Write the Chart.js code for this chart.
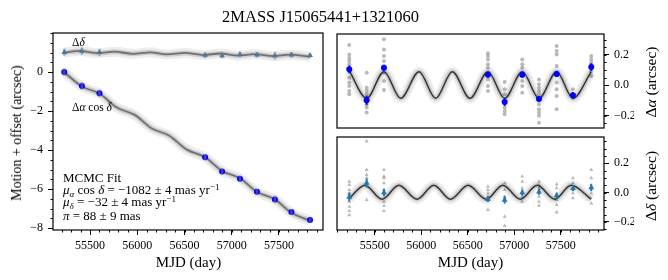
<!DOCTYPE html>
<html>
<head>
<meta charset="utf-8">
<script src="https://cdn.jsdelivr.net/npm/chart.js@4.4.1/dist/chart.umd.min.js"></script>
<style>
body { margin: 0; background: #fff; width: 668px; height: 280px; overflow: hidden; position: relative; font-family: "Liberation Serif", serif; color: #000; }
canvas { position: absolute; left: 0; top: 0; }
.t { position: absolute; white-space: nowrap; line-height: 1; }
.rot { transform: translate(-50%, -50%) rotate(-90deg); }
.sb { font-size: 70%; position: relative; top: 0.3em; }
.sp { font-size: 70%; position: relative; top: -0.45em; }
</style>
</head>
<body>
<canvas id="motion" width="668" height="280"></canvas>
<canvas id="raRes" width="668" height="280"></canvas>
<canvas id="decRes" width="668" height="280"></canvas>

<div class="t" style="left:0;width:641px;text-align:center;top:9px;font-size:16.5px">2MASS J15065441+1321060</div>
<div class="t rot" style="left:17px;top:133px;font-size:14px">Motion + offset (arcsec)</div>
<div class="t" style="left:150px;width:77px;text-align:center;top:255px;font-size:15px">MJD (day)</div>
<div class="t" style="left:432px;width:77px;text-align:center;top:255px;font-size:15px">MJD (day)</div>
<div class="t rot" style="left:651px;top:82px;font-size:15.5px">&Delta;<i>&alpha;</i> (arcsec)</div>
<div class="t rot" style="left:651px;top:186px;font-size:15.5px">&Delta;<i>&delta;</i> (arcsec)</div>

<div class="t" style="left:72px;top:37px;font-size:11.5px">&Delta;<i>&delta;</i></div>
<div class="t" style="left:72px;top:102px;font-size:11.5px">&Delta;<i>&alpha;</i> cos <i>&delta;</i></div>
<div class="t" style="left:63px;top:171px;font-size:13px">MCMC Fit</div>
<div class="t" style="left:63px;top:183px;font-size:13px"><i>&mu;</i><span class="sb"><i>&alpha;</i></span> cos <i>&delta;</i> = &minus;1082 &plusmn; 4 mas yr<span class="sp">&minus;1</span></div>
<div class="t" style="left:63px;top:195px;font-size:13px"><i>&mu;</i><span class="sb"><i>&delta;</i></span> = &minus;32 &plusmn; 4 mas yr<span class="sp">&minus;1</span></div>
<div class="t" style="left:63px;top:209px;font-size:13px"><i>&pi;</i> = 88 &plusmn; 9 mas</div>

<script>
// epochs (MJD) of the ten observing runs
const mjd = [55227, 55414, 55600, 56718, 56898, 57087, 57267, 57457, 57632, 57829];

// left panel: motion + offset
const raOff  = [0.0, -0.72, -1.09, -4.37, -5.10, -5.47, -6.14, -6.53, -7.18, -7.59];
const decOff = [1.01, 1.07, 1.0, 0.86, 0.84, 0.9, 0.88, 0.84, 0.88, 0.85];
const offErr = [0.2, 0.2, 0.2, 0.15, 0.15, 0.15, 0.15, 0.2, 0.15, 0.12];

// right panels: parallax residuals (epoch means)
const raRes  = [0.105, -0.098, 0.115, 0.07, -0.11, 0.07, -0.09, 0.075, -0.065, 0.12];
const raErr  = [0.025, 0.03, 0.02, 0.02, 0.025, 0.02, 0.02, 0.02, 0.02, 0.025];
const decRes = [-0.03, 0.065, 0.0, -0.045, -0.05, 0.0, 0.005, -0.02, 0.03, 0.035];
const decErr = [0.03, 0.03, 0.025, 0.02, 0.025, 0.02, 0.02, 0.02, 0.02, 0.025];

// single frames per epoch
const raSingles = [
  [0.265, 0.203, 0.18, 0.16, 0.138, 0.05, 0.018, -0.004, -0.037, -0.059],
  [0.083, -0.015, -0.037, -0.059, -0.125, -0.146, -0.179],
  [0.302, 0.236, 0.193, 0.16, 0.083, 0.029, -0.03],
  [0.21, 0.193, 0.17, 0.138, 0.116, 0.039, -0.004, -0.037],
  [0.022, -0.026, -0.059, -0.146, -0.168, -0.19],
  [0.17, 0.138, 0.116, 0.029, -0.004, -0.048],
  [0.039, 0.007, -0.015, -0.037, -0.059, -0.125, -0.157, -0.179, -0.2, -0.245],
  [0.258, 0.226, 0.203, 0.127, 0.018, -0.026, -0.07, -0.157],
  [-0.026, -0.08],
  [0.193, 0.17, 0.149, 0.094, 0.062]
];
const decSingles = [
  [0.075, 0.053, 0.018, -0.005, -0.062, -0.096, -0.125, -0.153],
  [0.35, 0.155, 0.121, 0.1, -0.05],
  [0.155, 0.11, 0.099, 0.064, 0.018, -0.062, -0.091, -0.125],
  [0.041, 0.018, -0.004, -0.027, -0.118],
  [0.064, 0.018, -0.027, -0.164, -0.226],
  [0.11, 0.075, 0.03, -0.027, -0.062],
  [0.075, 0.053, 0.03, -0.027, -0.062, -0.089],
  [0.057, 0.03, -0.05, -0.084, -0.134],
  [0.099, 0.064, -0.004, -0.038],
  [0.155, 0.099, -0.004, -0.073]
];

// best fit model, read at its turning points
const modelRaMjd = [55227, 55414, 55600, 55780, 55977, 56156, 56335, 56525, 56718, 56898, 57087, 57267, 57457, 57632, 57829];
const modelRaMotion = [-0.01, -0.74, -1.105, -1.81, -2.21, -2.90, -3.25, -3.98, -4.37, -5.07, -5.45, -6.15, -6.53, -7.22, -7.62];
const modelRa = [0.095, -0.085, 0.09, -0.085, 0.09, -0.085, 0.09, -0.085, 0.09, -0.085, 0.09, -0.085, 0.09, -0.085, 0.09];
const modelDecMjd = [55227, 55394, 55580, 55760, 55955, 56136, 56315, 56505, 56700, 56878, 57067, 57247, 57437, 57612, 57829];
const modelDecMotion = [1.00, 1.08, 0.965, 1.045, 0.93, 1.01, 0.90, 0.98, 0.87, 0.95, 0.84, 0.92, 0.81, 0.89, 0.78];
const modelDec = [-0.04, 0.05, -0.045, 0.05, -0.045, 0.05, -0.045, 0.05, -0.045, 0.05, -0.045, 0.05, -0.045, 0.05, -0.045];

const xTicks = [55500, 56000, 56500, 57000, 57500];
const yTicksLeft = [-8, -6, -4, -2, 0];
const yTicksRight = [-0.2, 0, 0.2];

const RA_COL = '#0000ff';
const DEC_COL = '#1f77b4';
const tickFont = { family: 'Liberation Serif', size: 12 };

function pts(xs, ys) { return xs.map((x, i) => ({ x: x, y: ys[i] })); }
function singles(list) {
  const out = [];
  list.forEach((vals, i) => vals.forEach(v => out.push({ x: mjd[i], y: v })));
  return out;
}
function minus(s) { return s.replace('-', '\u2212'); }

// model line with its blurred sample band
function modelSets(xs, ys, lineCol, lineW) {
  return [
    { data: pts(xs, ys), showLine: true, pointRadius: 0, borderColor: lineCol, borderWidth: lineW, cubicInterpolationMode: 'monotone' },
    { data: pts(xs, ys), showLine: true, pointRadius: 0, borderColor: 'rgba(0,0,0,0.14)', borderWidth: 5, cubicInterpolationMode: 'monotone' },
    { data: pts(xs, ys), showLine: true, pointRadius: 0, borderColor: 'rgba(0,0,0,0.07)', borderWidth: 10, cubicInterpolationMode: 'monotone' }
  ];
}

const frame = {
  id: 'frame',
  afterDraw(c) {
    const a = c.chartArea, g = c.ctx;
    g.save();
    g.strokeStyle = '#000';
    g.lineWidth = 1.2;
    g.strokeRect(a.left, a.top, a.right - a.left, a.bottom - a.top);
    g.restore();
  }
};

const errorBars = {
  id: 'errorBars',
  afterDatasetsDraw(c) {
    const g = c.ctx;
    c.data.datasets.forEach(ds => {
      if (!ds.err) return;
      g.save();
      g.strokeStyle = ds.errColor || ds.borderColor;
      g.lineWidth = ds.errWidth || 1.5;
      ds.data.forEach((p, j) => {
        const x = c.scales.x.getPixelForValue(p.x);
        g.beginPath();
        g.moveTo(x, c.scales.y.getPixelForValue(p.y - ds.err[j]));
        g.lineTo(x, c.scales.y.getPixelForValue(p.y + ds.err[j]));
        g.stroke();
      });
      g.restore();
    });
  }
};

function minorTicks(specs) {
  return {
    id: 'minorTicks',
    afterDraw(c) {
      const g = c.ctx, a = c.chartArea;
      g.save();
      g.strokeStyle = '#000';
      g.lineWidth = 1;
      specs.forEach(s => {
        const sc = c.scales[s.id];
        const k0 = Math.ceil(sc.min / s.step - 1e-9), k1 = Math.floor(sc.max / s.step + 1e-9);
        for (let k = k0; k <= k1; k++) {
          const p = Math.round(sc.getPixelForValue(k * s.step)) + 0.5;
          g.beginPath();
          if (s.side === 'bottom') { g.moveTo(p, a.bottom); g.lineTo(p, a.bottom + 2.5); }
          else if (s.side === 'left') { g.moveTo(a.left, p); g.lineTo(a.left - 2.5, p); }
          else { g.moveTo(a.right, p); g.lineTo(a.right + 2.5, p); }
          g.stroke();
        }
      });
      g.restore();
    }
  };
}

function xScale(min, max, show) {
  const s = {
    type: 'linear', min: min, max: max, display: show,
    afterBuildTicks: s => { s.ticks = xTicks.map(v => ({ value: v })); },
    ticks: { font: tickFont, color: '#000', padding: 4, maxRotation: 0, autoSkip: false, callback: v => String(v) },
    grid: { drawOnChartArea: false, drawTicks: true, tickLength: 5, color: '#000' },
    border: { display: false }
  };
  if (show) s.afterFit = sc => { sc.height = 20; };
  return s;
}
function yScale(min, max, ticks, pos, fmt) {
  return {
    type: 'linear', min: min, max: max, position: pos,
    afterBuildTicks: s => { s.ticks = ticks.map(v => ({ value: v })); },
    afterFit: s => { s.width = 30; },
    ticks: { font: tickFont, color: '#000', padding: 5, autoSkip: false, callback: fmt },
    grid: { drawOnChartArea: false, drawTicks: true, tickLength: 5, color: '#000' },
    border: { display: false }
  };
}
function baseOptions(pad, scales) {
  return {
    responsive: false, animation: false, events: [],
    layout: { padding: pad },
    plugins: { legend: { display: false }, tooltip: { enabled: false } },
    scales: scales
  };
}

// left: motion + offset
new Chart(document.getElementById('motion'), {
  type: 'scatter',
  data: {
    datasets: [
      { data: pts(mjd, raOff), pointStyle: 'circle', pointRadius: 3, backgroundColor: RA_COL, borderColor: RA_COL, borderWidth: 0,
        err: offErr, errColor: 'rgba(128,128,128,0.5)', errWidth: 2.5 },
      { data: pts(mjd, decOff), pointStyle: 'triangle', pointRadius: 3.2, backgroundColor: DEC_COL, borderColor: DEC_COL, borderWidth: 0,
        err: offErr, errColor: 'rgba(128,128,128,0.5)', errWidth: 2.5 },
      ...modelSets(modelRaMjd, modelRaMotion, '#707070', 1.8),
      ...modelSets(modelDecMjd, modelDecMotion, '#707070', 1.8)
    ]
  },
  options: baseOptions({ left: 23, top: 33, right: 345, bottom: 30 }, {
    x: xScale(55108, 57966, true),
    y: yScale(-8.1, 2.0, yTicksLeft, 'left', v => minus(String(v)))
  }),
  plugins: [frame, errorBars, minorTicks([{ id: 'x', step: 100, side: 'bottom' }, { id: 'y', step: 0.5, side: 'left' }])]
});

// top right: RA parallax
new Chart(document.getElementById('raRes'), {
  type: 'scatter',
  data: {
    datasets: [
      { data: pts(mjd, raRes), pointStyle: 'circle', pointRadius: 3, backgroundColor: RA_COL, borderColor: RA_COL, borderWidth: 0, err: raErr, errWidth: 2 },
      ...modelSets(modelRaMjd, modelRa, '#333', 1.5),
      { data: singles(raSingles), pointStyle: 'circle', pointRadius: 2, backgroundColor: 'rgba(128,128,128,0.55)', borderWidth: 0 }
    ]
  },
  options: baseOptions({ left: 337, top: 34, right: 34, bottom: 152 }, {
    x: xScale(55095, 57966, false),
    y: yScale(-0.28, 0.337, yTicksRight, 'right', v => minus(v.toFixed(1)))
  }),
  plugins: [frame, errorBars, minorTicks([{ id: 'y', step: 0.05, side: 'right' }])]
});

// bottom right: Dec parallax
new Chart(document.getElementById('decRes'), {
  type: 'scatter',
  data: {
    datasets: [
      { data: pts(mjd, decRes), pointStyle: 'triangle', pointRadius: 3.4, backgroundColor: DEC_COL, borderColor: DEC_COL, borderWidth: 0, err: decErr, errWidth: 2 },
      ...modelSets(modelDecMjd, modelDec, '#333', 1.5),
      { data: singles(decSingles), pointStyle: 'triangle', pointRadius: 2.3, backgroundColor: 'rgba(128,128,128,0.55)', borderWidth: 0 }
    ]
  },
  options: baseOptions({ left: 337, top: 137, right: 34, bottom: 30 }, {
    x: xScale(55095, 57966, true),
    y: yScale(-0.255, 0.379, yTicksRight, 'right', v => minus(v.toFixed(1)))
  }),
  plugins: [frame, errorBars, minorTicks([{ id: 'x', step: 100, side: 'bottom' }, { id: 'y', step: 0.05, side: 'right' }])]
});
</script>
</body>
</html>
